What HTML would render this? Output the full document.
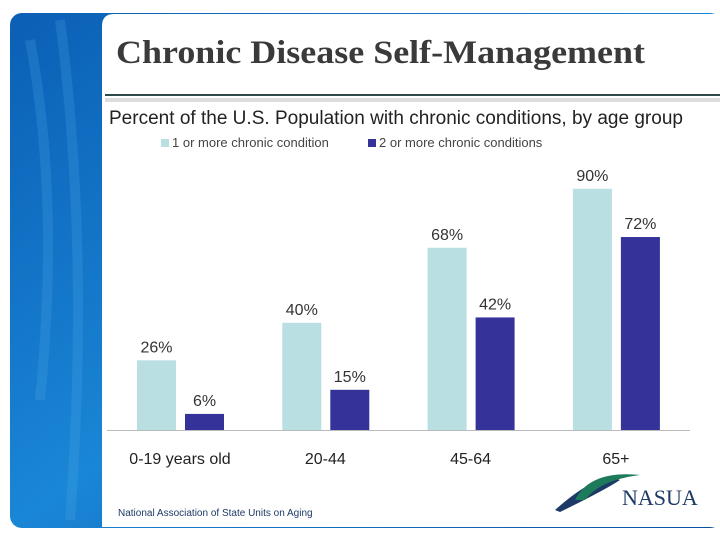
<!DOCTYPE html>
<html><head><meta charset="utf-8"><style>
body{margin:0;width:720px;height:540px;overflow:hidden;background:#fff;font-family:"Liberation Sans",sans-serif}
</style></head><body>
<svg width="720" height="540" xmlns="http://www.w3.org/2000/svg">
<defs><linearGradient id="bg" x1="0" y1="0" x2="1" y2="1"><stop offset="0" stop-color="#0b5fb5"/><stop offset="0.5" stop-color="#1a86d6"/><stop offset="1" stop-color="#0a4f9e"/></linearGradient></defs>
<rect x="10" y="13" width="712" height="515" rx="12" fill="url(#bg)"/>
<path d="M30 40 Q60 200 40 400 M60 20 Q90 250 70 520" stroke="#5ab4ee" stroke-width="10" fill="none" opacity="0.2"/>
<path d="M114 14 H722 V527 H102 V26 Q102 14 114 14Z" fill="#fff"/>
<text x="116" y="63" font-family="Liberation Serif" font-weight="bold" font-size="33" textLength="529" lengthAdjust="spacingAndGlyphs" fill="#3a3a3a">Chronic Disease Self-Management</text>
<rect x="105" y="94" width="617" height="2" fill="#2c4a4a"/>
<rect x="105" y="98" width="617" height="4" fill="#ddd"/>
<text x="109" y="124" font-size="19" textLength="574" lengthAdjust="spacingAndGlyphs" fill="#222">Percent of the U.S. Population with chronic conditions, by age group</text>
<rect x="161" y="139" width="8" height="8" fill="#b9dfe3"/>
<text x="172" y="147" font-size="13" fill="#444">1 or more chronic condition</text>
<rect x="368" y="139" width="8" height="8" fill="#35339a"/>
<text x="379" y="147" font-size="13" fill="#444">2 or more chronic conditions</text>
<g id="bars"></g>
<line x1="107" y1="430.5" x2="690" y2="430.5" stroke="#bbb"/>
<text x="118" y="516" font-size="10" fill="#1d3a66">National Association of State Units on Aging</text>
<path d="M555 510 Q600 470 620 480 Q605 490 560 512Z" fill="#1d3a66"/>
<path d="M575 500 Q590 470 640 475 Q600 480 585 500Z" fill="#1d7a5a"/>
<text x="622" y="505" font-family="Liberation Serif" font-size="22" fill="#1d3a66">NASUA</text>
</svg>
<script>
const categories=["0-19 years old","20-44","45-64","65+"];
const series1=[26,40,68,90];
const series2=[6,15,42,72];
const svgNS="http://www.w3.org/2000/svg";
const g=document.getElementById("bars");
const base=430, pxPer=2.68, x0=137, step=145.3, bw=39;
function y(v){return base-v*pxPer;}
function xc(i){return x0+i*step;}
function mk(tag,attrs){const e=document.createElementNS(svgNS,tag);for(const k in attrs)e.setAttribute(k,attrs[k]);g.appendChild(e);return e;}
categories.forEach((c,i)=>{
 [[series1,"#b9dfe3",0],[series2,"#35339a",48]].forEach(([s,col,off],j)=>{
  const r=mk("rect",{x:xc(i)+off,y:y(s[i]),width:bw,height:s[i]*pxPer,fill:col});
  
  
  const t=mk("text",{x:xc(i)+off+bw/2,y:y(s[i])-8,"text-anchor":"middle","font-size":"16",fill:"#333"});
  t.textContent=s[i]+"%";
  
  
 });
 const l=mk("text",{x:xc(i)+43,y:464,"text-anchor":"middle","font-size":"16",fill:"#222"});
 l.textContent=c;
 
 
});
</script>
</body></html>
